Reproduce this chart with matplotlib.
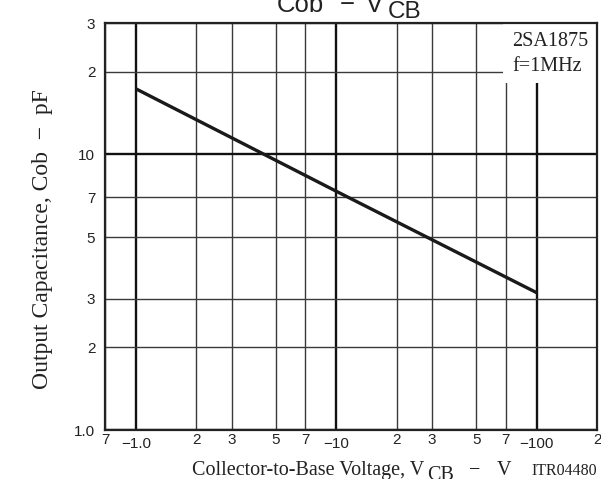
import matplotlib
matplotlib.use("Agg")
import matplotlib.pyplot as plt
from matplotlib.patches import Rectangle

# ---- data ----
vcb = [1.0, 10.0, 100.0]          # |V_CB| (V)
cob = [17.3, 7.35, 3.15]          # Cob (pF)

x_major = [1, 10, 100]
x_major_labels = ["\u22121.0", "\u221210", "\u2212100"]
x_minor = [0.7, 2, 3, 5, 7, 20, 30, 50, 70, 200]
x_minor_labels = ["7", "2", "3", "5", "7", "2", "3", "5", "7", "2"]

y_major = [1, 10]
y_major_labels = ["1.0", "10"]
y_minor = [2, 3, 5, 7, 20, 30]
y_minor_labels = ["2", "3", "5", "7", "2", "3"]

SANS = "Liberation Sans"
SERIF = "Liberation Serif"
TXT = "#222222"

W, H = 601, 479
fig = plt.figure(figsize=(W / 100, H / 100), dpi=100)
L, R, T, B = 105, 597, 23, 430
ax = fig.add_axes([L / W, 1 - B / H, (R - L) / W, (B - T) / H])
ax.set_xscale("log")
ax.set_yscale("log")
ax.set_xlim(0.7, 200)
ax.set_ylim(1, 30)

ax.set_xticks(x_major, x_major_labels)
ax.set_xticks(x_minor, x_minor_labels, minor=True)
ax.set_yticks(y_major, y_major_labels)
ax.set_yticks(y_minor, y_minor_labels, minor=True)

ax.tick_params(which="both", length=0, labelsize=11, colors=TXT)
ax.tick_params(axis="x", which="major", pad=5)
ax.tick_params(axis="x", which="minor", pad=2)
ax.tick_params(axis="y", which="both", pad=7)
for lab in ax.get_xticklabels(which="both") + ax.get_yticklabels(which="both"):
    lab.set_fontfamily(SANS)

ax.grid(which="major", color="#111111", lw=1.7)
ax.grid(which="minor", color="#3a3a3a", lw=1.0)
ax.set_axisbelow(True)
for s in ax.spines.values():
    s.set_linewidth(1.6)
    s.set_color(TXT)
    s.set_zorder(5)

ax.plot(vcb, cob, color="#1a1a1a", lw=2.4, solid_capstyle="butt", zorder=3)

# info box (white area hiding the grid)
box = Rectangle((503 / W, 1 - 83 / H), (596 - 503) / W, (83 - 24) / H,
                transform=fig.transFigure, fc="white", ec="none", zorder=4,
                clip_on=False)
ax.add_patch(box)
ax.text(512 / W, 1 - 32 / H, "2SA1875\nf=1MHz", transform=fig.transFigure,
        ha="left", va="top", multialignment="left",
        fontfamily=SERIF, fontsize=14.5, linespacing=1.4, zorder=4.5, color=TXT)

# title (partially clipped at the top, as in the reference)
fig.text(277 / W, 1 - 11.5 / H, "Cob", fontfamily=SANS, fontsize=18.5,
         ha="left", va="baseline", color=TXT)
fig.text(340 / W, 1 - 11.5 / H, "\u2212", fontfamily=SANS, fontsize=18.5,
         ha="left", va="baseline", color=TXT)
fig.text(366 / W, 1 - 12 / H, "V", fontfamily=SANS, fontsize=18.5,
         ha="left", va="baseline", color=TXT)
fig.text(388 / W, 1 - 17.5 / H, "CB", fontfamily=SANS, fontsize=17.5,
         ha="left", va="baseline", color=TXT)

# axis labels
fig.text(43 / W, 1 - 239 / H, "Output Capacitance, Cob  \u2212  pF", rotation=90,
         fontfamily=SERIF, fontsize=17, ha="center", va="center", color=TXT)
fig.text(192 / W, 1 - 475 / H, "Collector-to-Base Voltage, V", fontfamily=SERIF,
         fontsize=14.5, ha="left", va="baseline", color=TXT)
fig.text(427 / W, 1 - 480 / H, "CB", fontfamily=SERIF,
         fontsize=14.5, ha="left", va="baseline", color=TXT)
fig.text(469 / W, 1 - 475 / H, "\u2212", fontfamily=SERIF,
         fontsize=14.5, ha="left", va="baseline", color=TXT)
fig.text(497 / W, 1 - 475 / H, "V", fontfamily=SERIF,
         fontsize=14.5, ha="left", va="baseline", color=TXT)
fig.text(597 / W, 1 - 475 / H, "ITR04480", fontfamily=SERIF, fontsize=11.5,
         ha="right", va="baseline", color=TXT)

fig.savefig("out.png", dpi=100)
